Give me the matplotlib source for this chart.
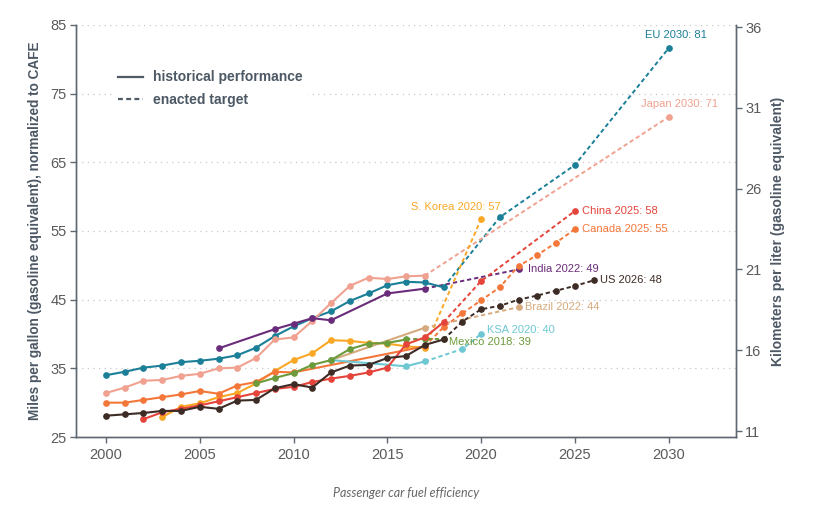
import matplotlib
matplotlib.use('Agg')
import matplotlib.pyplot as plt
from matplotlib.lines import Line2D

plt.rcParams['font.family'] = ['Liberation Sans', 'DejaVu Sans']

# ---- historical performance (mpg, CAFE-normalized) ----
eu_years = list(range(2000, 2019))
eu_vals = [34.0, 34.5, 35.1, 35.4, 35.9, 36.1, 36.4, 36.9, 38.0, 39.7,
           41.1, 42.3, 43.3, 44.8, 45.9, 47.1, 47.6, 47.5, 46.8]
jp_years = list(range(2000, 2018))
jp_vals = [31.4, 32.2, 33.2, 33.3, 33.9, 34.2, 35.0, 35.1, 36.5, 39.2,
           39.5, 41.9, 44.5, 47.0, 48.2, 48.0, 48.4, 48.5]
in_years = [2006, 2009, 2010, 2011, 2012, 2015, 2017]
in_vals = [37.9, 40.7, 41.5, 42.3, 42.0, 45.9, 46.6]
kr_years = list(range(2003, 2018))
kr_vals = [27.9, 29.4, 29.9, 30.8, 31.4, 32.8, 34.6, 36.2, 37.2, 39.1,
           39.0, 38.7, 38.6, 38.2, 38.0]
cn_years = list(range(2002, 2019))
cn_vals = [27.6, 28.6, 29.1, 29.6, 30.2, 30.8, 31.4, 32.0, 32.3, 33.0,
           33.5, 33.9, 34.4, 35.1, 38.5, 39.5, 41.7]
ca_years = [2000, 2001, 2002, 2003, 2004, 2005, 2006, 2007, 2008, 2009, 2010, 2017]
ca_vals = [30.0, 30.0, 30.4, 30.8, 31.2, 31.7, 31.3, 32.5, 33.0, 34.5, 34.4, 38.2]
us_years = list(range(2000, 2019))
us_vals = [28.1, 28.3, 28.5, 28.8, 28.8, 29.4, 29.1, 30.3, 30.4, 32.1,
           32.7, 32.2, 34.4, 35.4, 35.5, 36.5, 36.8, 38.4, 39.2]
br_years = [2012, 2017]
br_vals = [36.2, 40.9]
ksa_years = [2012, 2016, 2017]
ksa_vals = [36.2, 35.3, 36.0]
mx_years = list(range(2008, 2017))
mx_vals = [32.8, 33.6, 34.3, 35.5, 36.2, 37.8, 38.6, 38.7, 39.2]

# ---- enacted targets ----
eu_t_years = [2018, 2021, 2025, 2030]
eu_t_vals = [46.8, 57.0, 64.6, 81.6]
jp_t_years = [2017, 2030]
jp_t_vals = [48.5, 71.6]
in_t_years = [2017, 2022]
in_t_vals = [46.6, 49.4]
kr_t_years = [2017, 2020]
kr_t_vals = [38.0, 56.7]
cn_t_years = [2018, 2020, 2025]
cn_t_vals = [41.7, 47.7, 57.9]
ca_t_years = [2017, 2018, 2019, 2020, 2021, 2022, 2023, 2024, 2025]
ca_t_vals = [38.2, 41.0, 43.0, 44.9, 46.8, 49.9, 51.5, 53.3, 55.25]
us_t_years = [2018, 2019, 2020, 2021, 2022, 2023, 2024, 2025, 2026]
us_t_vals = [39.2, 41.8, 43.6, 44.1, 45.0, 45.6, 46.3, 47.0, 47.8]
br_t_years = [2017, 2022]
br_t_vals = [40.9, 43.9]
ksa_t_years = [2017, 2019, 2020]
ksa_t_vals = [36.0, 37.8, 40.0]
mx_t_years = [2016, 2017, 2018]
mx_t_vals = [39.2, 39.2, 39.2]

labels = ['EU 2030: 81', 'Japan 2030: 71', 'India 2022: 49', 'S. Korea 2020: 57',
          'China 2025: 58', 'Canada 2025: 55', 'US 2026: 48', 'Brazil 2022: 44',
          'KSA 2020: 40', 'Mexico 2018: 39']

C_EU = '#1a7f97'
C_JP = '#f0a190'
C_IN = '#6a2c7a'
C_KR = '#f9a825'
C_CN = '#e4443a'
C_CA = '#f4773a'
C_US = '#3d2b25'
C_BR = '#d6aa7e'
C_KSA = '#6ec8d3'
C_MX = '#6c9b3c'

AXC = '#5d6872'
TXT = '#4c5864'

fig = plt.figure(figsize=(8.18, 5.14), dpi=100)
ax = fig.add_axes([0.0929, 0.1498, 0.8069, 0.8016])

series = [
    (eu_years, eu_vals, eu_t_years, eu_t_vals, C_EU),
    (jp_years, jp_vals, jp_t_years, jp_t_vals, C_JP),
    (in_years, in_vals, in_t_years, in_t_vals, C_IN),
    (kr_years, kr_vals, kr_t_years, kr_t_vals, C_KR),
    (ca_years, ca_vals, ca_t_years, ca_t_vals, C_CA),
    (br_years, br_vals, br_t_years, br_t_vals, C_BR),
    (ksa_years, ksa_vals, ksa_t_years, ksa_t_vals, C_KSA),
    (mx_years, mx_vals, mx_t_years, mx_t_vals, C_MX),
    (cn_years, cn_vals, cn_t_years, cn_t_vals, C_CN),
    (us_years, us_vals, us_t_years, us_t_vals, C_US),
]

for hx, hy, tx, ty, c in series:
    ax.plot(tx, ty, color=c, lw=1.4, dashes=(2.2, 1.5), marker='o', ms=3.8,
            markevery=list(range(1, len(tx))), zorder=3)
    ax.plot(hx, hy, color=c, lw=1.5, marker='o', ms=3.8, zorder=4)

# end-of-target labels
lab_pos = [
    (eu_t_years[-1], eu_t_vals[-1], C_EU, 'center', 'bottom', (5, 6)),
    (jp_t_years[-1], jp_t_vals[-1], C_JP, 'center', 'bottom', (8, 6)),
    (in_t_years[-1], in_t_vals[-1], C_IN, 'left', 'center', (7, 0)),
    (kr_t_years[-1], kr_t_vals[-1], C_KR, 'center', 'bottom', (-18, 5)),
    (cn_t_years[-1], cn_t_vals[-1], C_CN, 'left', 'center', (5, 0)),
    (ca_t_years[-1], ca_t_vals[-1], C_CA, 'left', 'center', (5, 0)),
    (us_t_years[-1], us_t_vals[-1], C_US, 'left', 'center', (5, 0)),
    (br_t_years[-1], br_t_vals[-1], C_BR, 'left', 'center', (5, 0)),
    (ksa_t_years[-1], ksa_t_vals[-1], C_KSA, 'left', 'center', (4, 3)),
    (mx_t_years[-1], mx_t_vals[-1], C_MX, 'left', 'center', (4, -2)),
]
for (x, y, c, ha, va, off), txt in zip(lab_pos, labels):
    ax.annotate(txt, (x, y), xytext=off, textcoords='offset points',
                ha=ha, va=va, color=c, fontsize=8, zorder=6)

ax.set_xlim(1998.4, 2033.6)
ax.set_ylim(25, 85)
ax.set_xticks([2000, 2005, 2010, 2015, 2020, 2025, 2030])
ax.set_yticks([25, 35, 45, 55, 65, 75, 85])
for yv in [35, 45, 55, 65, 75, 85]:
    ax.axhline(yv, color='#c8c8c8', lw=0.9, ls=(0, (1, 3.5)), zorder=1)

ax.set_ylabel('Miles per gallon (gasoline equivalent), normalized to CAFE',
              fontsize=9.8, fontweight='bold', color=TXT, labelpad=6)

ax2 = ax.twinx()
ax2.set_ylim(25 * 0.425144, 85 * 0.425144)
ax2.set_yticks([11, 16, 21, 26, 31, 36])
ax2.set_ylabel('Kilometers per liter (gasoline equivalent)', fontsize=10,
               fontweight='bold', color=TXT, labelpad=7)

for a in (ax, ax2):
    a.spines['top'].set_visible(False)
    for s in ['left', 'right', 'bottom']:
        a.spines[s].set_color(AXC)
        a.spines[s].set_linewidth(1.0)
    a.tick_params(colors=AXC, labelcolor='#5a5a5a', labelsize=10.5, length=4,
                  width=1.0, direction='out', pad=2.5)
ax.tick_params(axis='x', pad=4)

handles = [Line2D([], [], color='#4f5b66', lw=1.6),
           Line2D([], [], color='#4f5b66', lw=1.6, dashes=(2.2, 1.5))]
leg = ax.legend(handles, ['historical performance', 'enacted target'],
                loc='upper left', bbox_to_anchor=(0.044, 0.92), frameon=True,
                facecolor='white', edgecolor='none', framealpha=1,
                handlelength=1.8, handletextpad=0.75, labelspacing=0.6,
                prop={'weight': 'bold', 'size': 10})
for t in leg.get_texts():
    t.set_color(TXT)
leg.set_zorder(7)

fig.text(0.496, 0.041, 'Passenger car fuel efficiency', family='Lato',
         style='italic', fontsize=9, color='#666666', ha='center', va='center')

fig.savefig('out.png', dpi=100)
